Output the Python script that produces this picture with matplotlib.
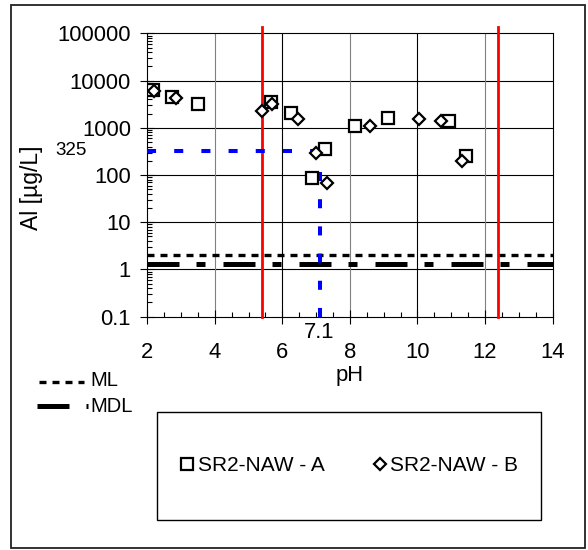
import matplotlib
matplotlib.use('Agg')
import matplotlib.pyplot as plt
import numpy as np
from matplotlib.lines import Line2D
from matplotlib.patches import Rectangle
from matplotlib.ticker import LogLocator, FuncFormatter, MultipleLocator, NullFormatter

plt.rcParams['font.family'] = ['Liberation Sans', 'DejaVu Sans']

# Al concentration vs pH, two replicate series
ph_a = [2.18, 2.72, 3.49, 5.65, 6.25, 6.87, 7.26, 8.15, 9.12, 10.93, 11.43]
al_a = [6300, 4400, 3200, 3600, 2040, 88, 357, 1100, 1580, 1410, 258]
ph_b = [2.20, 2.85, 5.40, 5.69, 6.45, 7.01, 7.31, 8.59, 10.06, 10.71, 11.31]
al_b = [6000, 4200, 2280, 3230, 1520, 299, 67, 1070, 1550, 1410, 202]

label_a = 'SR2-NAW - A'
label_b = 'SR2-NAW - B'

ml = 2.0          # ug/L
mdl = 1.3         # ug/L
ph_limits = [5.4, 12.4]
ph_natural = 7.1
al_natural = 325

fs = 15      # legend / key text
fs_tick = 15.8

fig = plt.figure(figsize=(5.88, 5.5), dpi=100)
W, H = 588.0, 550.0
ax = fig.add_axes([147.3/W, 1-316.7/H, 405.2/W, 283.3/H])

ax.set_xlim(2, 14)
ax.set_ylim(0.1, 1e5)
ax.set_yscale('log')

# grid: black decades, vertical lines alternate gray/black
for v in [1, 10, 100, 1000, 10000]:
    ax.axhline(v, color='black', lw=0.8, zorder=1)
for x in [4, 6, 8, 10, 12]:
    c = 'black' if x in (6, 10) else '#808080'
    ax.axvline(x, color=c, lw=0.8, zorder=1)

# ML / MDL
ax.plot([2, 14], [ml, ml], color='black', lw=2.4, dashes=(2.1, 1.8), zorder=3)
ax.plot([2, 14], [mdl, mdl], color='black', lw=3.6, dashes=(6.4, 3.4, 1.8, 3.6), zorder=3)

# pH range limits
for x in ph_limits:
    ax.plot([x, x], [0.1, 1.4e5], color='#ff0000', lw=2.0, clip_on=False, zorder=4)

# natural pH / concentration markers
ax.plot([2, ph_natural], [al_natural, al_natural], color='#0000ff', lw=2.9, dashes=(2.25, 4.5), zorder=4)
ax.plot([ph_natural, ph_natural], [0.1, al_natural], color='#0000ff', lw=2.9, dashes=(2.25, 4.5), zorder=4)

ha, = ax.plot(ph_a, al_a, 's', ms=9.1, mfc='white', mec='black', mew=1.6, ls='none', zorder=5)
hb, = ax.plot(ph_b, al_b, 'D', ms=6.2, mfc='white', mec='black', mew=1.6, ls='none', zorder=6)

ax.xaxis.set_major_locator(MultipleLocator(2))
ax.xaxis.set_minor_locator(MultipleLocator(0.5))
ax.yaxis.set_major_locator(LogLocator(base=10, numticks=10))
ax.yaxis.set_minor_locator(LogLocator(base=10, subs=np.arange(2, 10), numticks=10))
ax.yaxis.set_minor_formatter(NullFormatter())
ax.yaxis.set_major_formatter(FuncFormatter(lambda v, p: '%g' % v))
ax.tick_params(which='major', direction='inout', length=10.5, width=0.8, labelsize=fs_tick)
ax.tick_params(which='minor', direction='in', length=3.8, width=0.8)
ax.tick_params(axis='x', which='major', pad=13)
ax.tick_params(axis='y', which='major', pad=6.5)
for s in ax.spines.values():
    s.set_linewidth(0.8)
    s.set_zorder(2)

ax.set_xlabel('pH', fontsize=fs_tick)
ax.set_ylabel('Al [µg/L]', fontsize=16.5)
ax.xaxis.set_label_coords(0.5, -0.172)
ax.yaxis.set_label_coords(-0.257, 0.455)

ax.text(-0.149, al_natural, str(al_natural), transform=ax.get_yaxis_transform(),
        ha='right', va='center', fontsize=13.5)
ax.text(ph_natural, -0.02, str(ph_natural), transform=ax.get_xaxis_transform(),
        ha='center', va='top', fontsize=fs_tick)

# ML / MDL key below the axes (figure pixel coords)
def fx(px):
    return px / W

def fy(py):
    return 1 - py / H

fig.add_artist(Line2D([fx(39), fx(84)], [fy(382), fy(382)], color='black', lw=2.4,
                      dashes=(2.1, 1.8), transform=fig.transFigure))
fig.add_artist(Line2D([fx(37), fx(88)], [fy(406), fy(406)], color='black', lw=3.6,
                      dashes=(6.4, 3.4, 1.8, 3.6), transform=fig.transFigure))
fig.text(fx(90), fy(381), 'ML', fontsize=14.5, ha='left', va='center')
fig.text(fx(90), fy(407), 'MDL', fontsize=14.5, ha='left', va='center')

# series legend in its own box
fig.add_artist(Rectangle((fx(156.7), fy(520)), (540.7-156.7)/W, (520-411.7)/H,
                         transform=fig.transFigure, fill=False, ec='black', lw=1.0))
fig.legend([ha, hb], [label_a, label_b], loc='center', bbox_to_anchor=(fx(348.7), fy(465.8)),
           ncol=2, frameon=False, fontsize=fs, handlelength=0.8, handletextpad=0.1,
           columnspacing=2.26)

# outer chart frame
fig.add_artist(Rectangle((fx(11), fy(548)), (585-11)/W, (548-5)/H,
                         transform=fig.transFigure, fill=False, ec='#222222', lw=1.3))

fig.savefig('out.png', dpi=100)
